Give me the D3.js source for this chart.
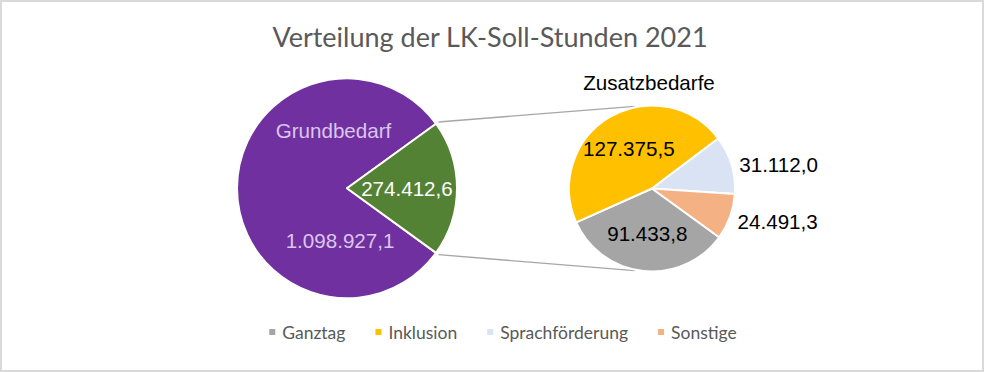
<!DOCTYPE html>
<html>
<head>
<meta charset="utf-8">
<script src="https://cdn.jsdelivr.net/npm/d3@7"></script>
<style>
  body { margin: 0; background: #fff; }
  svg { display: block; }
</style>
</head>
<body>
<div id="chart"></div>
<script>
// Daten
const mainCategories = ["Grundbedarf", "Zusatzbedarfe"];
const mainValues = [1098927.1, 274412.6];
const subCategories = ["Ganztag", "Inklusion", "Sprachförderung", "Sonstige"];
const subValues = [91433.8, 127375.5, 31112.0, 24491.3];
const titleText = "Verteilung der LK-Soll-Stunden 2021";

const mainColors = ["#7030a0", "#548235"];
const subColors = ["#a5a5a5", "#ffc000", "#dae3f3", "#f4b183"];

const width = 984, height = 372;
const main = { cx: 347, cy: 188.3, r: 110 };
const sub = { cx: 652, cy: 188.5, r: 83 };

const de = d3.formatLocale({ decimal: ",", thousands: ".", grouping: [3], currency: ["", "€"] });
const fmt = de.format(",.1f");

const svg = d3.select("#chart").append("svg")
    .attr("width", width)
    .attr("height", height);

// Rahmen
svg.append("rect")
    .attr("x", 1).attr("y", 1)
    .attr("width", width - 2).attr("height", height - 2)
    .attr("fill", "#fff")
    .attr("stroke", "#d9d9d9")
    .attr("stroke-width", 2);

// Titel
svg.append("text")
    .attr("x", 490).attr("y", 46.5)
    .attr("text-anchor", "middle")
    .style("font-family", "Lato, 'Open Sans', sans-serif")
    .style("font-size", "27px")
    .style("fill", "#595959")
    .text(titleText);

// Startwinkel so, dass die Zusatz-Scheibe rechts mittig liegt
const total = d3.sum(mainValues);
const start = Math.PI / 2 + Math.PI * mainValues[1] / total;

const pie = d3.pie().sort(null).startAngle(start).endAngle(start + 2 * Math.PI);
const mainArcs = pie(mainValues);
const subArcs = pie(subValues);

const polar = (c, a, r) => [c.cx + r * Math.sin(a), c.cy - r * Math.cos(a)];
const origin = { cx: 0, cy: 0 };

// Verbindungslinien
const split = [mainArcs[1].startAngle, mainArcs[1].endAngle];
const subEnds = [-12 * Math.PI / 180, 192 * Math.PI / 180];
split.forEach((a, i) => {
    const p1 = polar(main, a, main.r + 3);
    const p2 = polar(sub, subEnds[i], sub.r + 1);
    svg.append("line")
        .attr("x1", p1[0]).attr("y1", p1[1])
        .attr("x2", p2[0]).attr("y2", p2[1])
        .attr("stroke", "#a6a6a6")
        .attr("stroke-width", 1.4);
});

// Hauptkreis
const gMain = svg.append("g").attr("transform", `translate(${main.cx},${main.cy})`);
const mainArc = d3.arc().innerRadius(0).outerRadius(main.r);
gMain.selectAll("path")
    .data(mainArcs)
    .enter().append("path")
    .attr("d", mainArc)
    .attr("fill", (d, i) => mainColors[i])
    .attr("stroke", "#fff")
    .attr("stroke-width", 2)
    .attr("stroke-linejoin", "round");

const labelFont = "'Liberation Sans', Arial, sans-serif";
const labelSize = "20.6px";

// Beschriftung Grundbedarf (Name oben, Wert unten)
const gbName = polar(origin, -13.3 * Math.PI / 180, 0.535 * main.r);
const gbVal = polar(origin, 187.6 * Math.PI / 180, 0.48 * main.r);
gMain.append("text")
    .attr("x", gbName[0]).attr("y", gbName[1])
    .attr("dy", "0.35em")
    .attr("text-anchor", "middle")
    .style("font-family", labelFont).style("font-size", labelSize)
    .style("fill", "#dac6ee")
    .text(mainCategories[0]);
gMain.append("text")
    .attr("x", gbVal[0]).attr("y", gbVal[1])
    .attr("dy", "0.35em")
    .attr("text-anchor", "middle")
    .style("font-family", labelFont).style("font-size", labelSize)
    .style("fill", "#dac6ee")
    .text(fmt(mainValues[0]));

// Beschriftung Zusatz
const zc = polar(origin, (mainArcs[1].startAngle + mainArcs[1].endAngle) / 2, 0.545 * main.r);
gMain.append("text")
    .attr("x", zc[0]).attr("y", zc[1])
    .attr("dy", "0.35em")
    .attr("text-anchor", "middle")
    .style("font-family", labelFont).style("font-size", labelSize)
    .style("fill", "#fff")
    .text(fmt(mainValues[1]));

// Nebenkreis
const gSub = svg.append("g").attr("transform", `translate(${sub.cx},${sub.cy})`);
const subArc = d3.arc().innerRadius(0).outerRadius(sub.r);
gSub.selectAll("path")
    .data(subArcs)
    .enter().append("path")
    .attr("d", subArc)
    .attr("fill", (d, i) => subColors[i])
    .attr("stroke", "#fff")
    .attr("stroke-width", 2)
    .attr("stroke-linejoin", "round");

gSub.selectAll("text.val")
    .data(subArcs)
    .enter().append("text")
    .attr("class", "val")
    .each(function (d) {
        const mid = (d.startAngle + d.endAngle) / 2;
        const outside = (d.endAngle - d.startAngle) < Math.PI / 4;
        const p = polar(origin, mid, outside ? sub.r + 8 : 0.55 * sub.r);
        d3.select(this)
            .attr("x", p[0]).attr("y", p[1])
            .attr("dy", outside ? "0.45em" : "0.35em")
            .attr("text-anchor", outside ? "start" : "middle");
    })
    .style("font-family", labelFont).style("font-size", labelSize)
    .style("fill", "#000")
    .text(d => fmt(d.data));

svg.append("text")
    .attr("x", sub.cx - 3).attr("y", sub.cy - sub.r - 15.5)
    .attr("text-anchor", "middle")
    .style("font-family", labelFont).style("font-size", labelSize)
    .style("fill", "#000")
    .text(mainCategories[1]);

// Legende
const legend = svg.append("g").attr("transform", "translate(0,333)");
const items = legend.selectAll("g")
    .data(subCategories)
    .enter().append("g");
items.append("rect")
    .attr("width", 6).attr("height", 6)
    .attr("y", -4)
    .attr("fill", (d, i) => subColors[i]);
items.append("text")
    .attr("x", 13)
    .attr("dy", "0.35em")
    .style("font-family", "Lato, 'Open Sans', sans-serif")
    .style("font-size", "17.5px")
    .style("fill", "#595959")
    .text(d => d);

let xPos = 0;
const offsets = [];
items.each(function () {
    offsets.push(xPos);
    xPos += 13 + d3.select(this).select("text").node().getComputedTextLength() + 30;
});
const legendWidth = xPos - 30;
const legendStart = 503 - legendWidth / 2;
items.attr("transform", (d, i) => `translate(${legendStart + offsets[i]},0)`);
</script>
</body>
</html>
